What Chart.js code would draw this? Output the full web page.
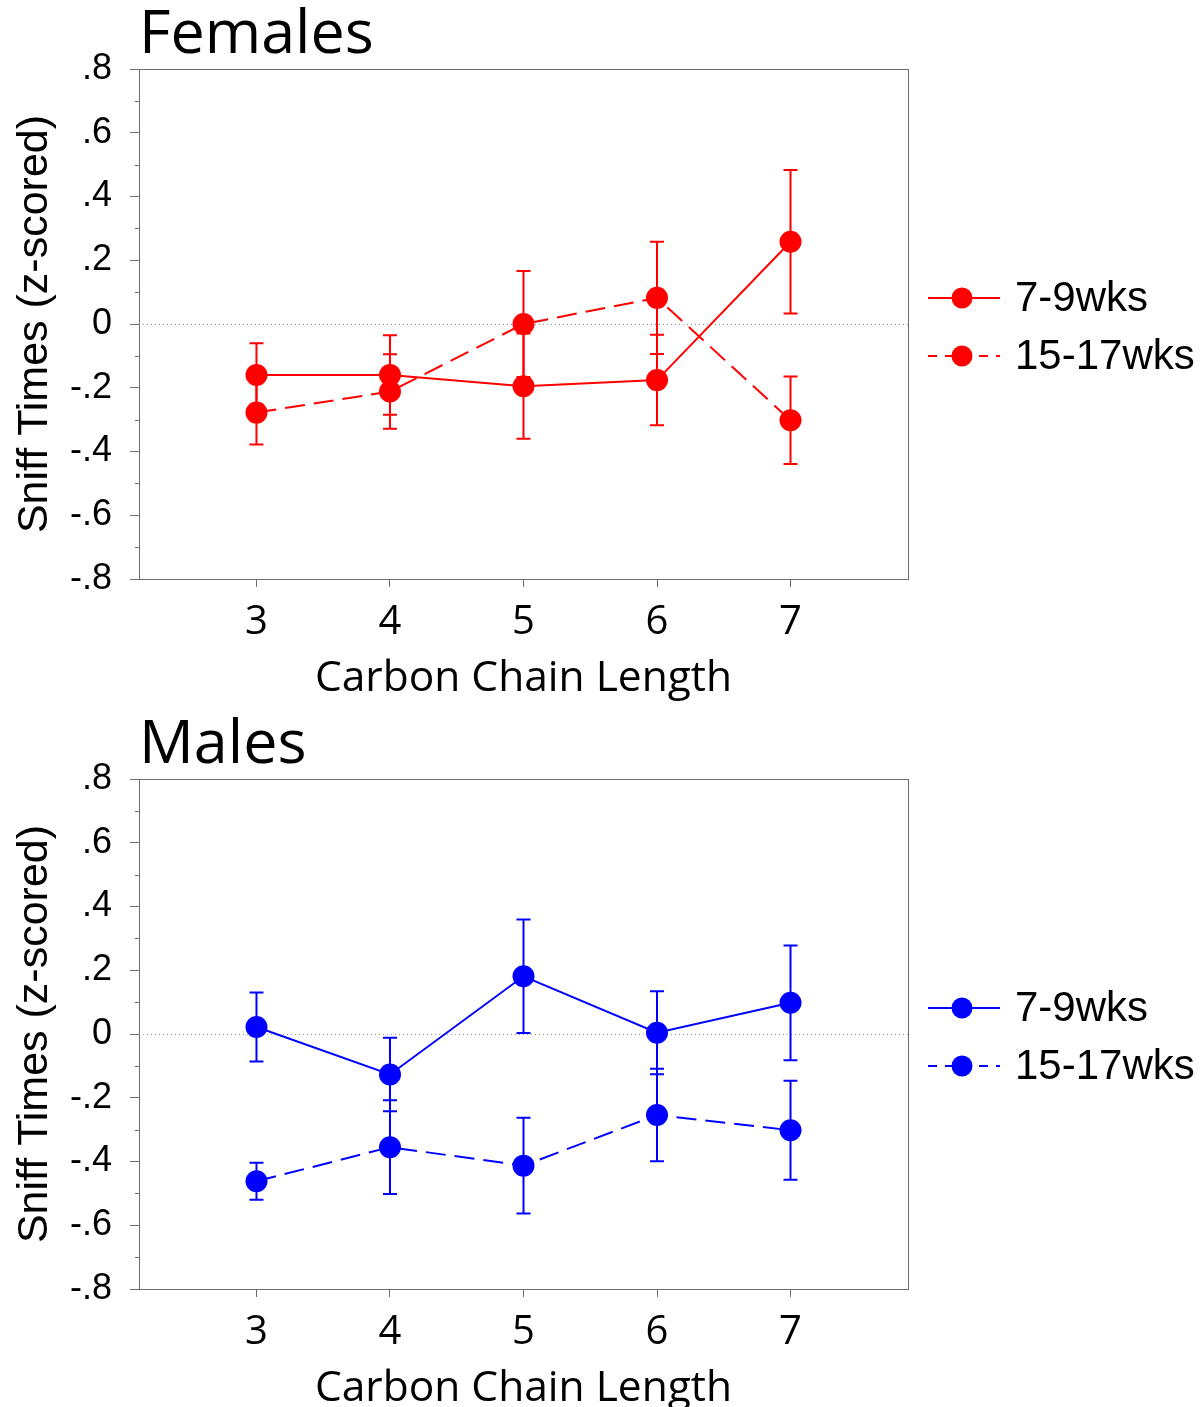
<!DOCTYPE html>
<html>
<head>
<meta charset="utf-8">
<title>Sniff times by carbon chain length</title>
<script src="https://cdn.jsdelivr.net/npm/chart.js@4.4.1/dist/chart.umd.min.js"></script>
<style>
  html, body { margin: 0; padding: 0; background: #fff; overflow: hidden; }
  #page { position: relative; width: 1203px; height: 1407px; overflow: hidden; }
  canvas { position: absolute; left: 0; }
  #femaleChart { top: 0; }
  #maleChart { top: 710px; }
</style>
</head>
<body>
<div id="page">
  <canvas id="femaleChart" width="1203" height="710"></canvas>
  <canvas id="maleChart" width="1203" height="710"></canvas>
</div>
<script>
// values (means and SEM)
const carbonLengths = [3, 4, 5, 6, 7];
const seriesLabels = ['7-9wks', '15-17wks'];

const femaleYoung = [-0.160, -0.160, -0.195, -0.176, 0.258];
const femaleYoungSem = [0.100, 0.125, 0.165, 0.142, 0.225];
const femaleOld = [-0.278, -0.212, 0.000, 0.082, -0.302];
const femaleOldSem = [0.100, 0.117, 0.166, 0.176, 0.137];

const maleYoung = [0.022, -0.127, 0.181, 0.004, 0.098];
const maleYoungSem = [0.108, 0.115, 0.178, 0.130, 0.180];
const maleOld = [-0.462, -0.355, -0.413, -0.254, -0.302];
const maleOldSem = [0.058, 0.147, 0.150, 0.145, 0.155];

const yTickValues = [-0.8, -0.6, -0.4, -0.2, 0, 0.2, 0.4, 0.6, 0.8];
const yTickLabels = ['-.8', '-.6', '-.4', '-.2', '0', '.2', '.4', '.6', '.8'];
const yMinorTicks = [-0.7, -0.5, -0.3, -0.1, 0.1, 0.3, 0.5, 0.7];
const xTickLabels = ['3', '4', '5', '6', '7'];

const AXIS_COLOR = '#6e6e6e';
const SANS = '"Liberation Sans", Arial, sans-serif';
const TITLE_FONT = '"Open Sans", "Noto Sans", sans-serif';

// box round the plot, dotted zero line, short minor ticks
const framePlugin = {
  id: 'frame',
  beforeDatasetsDraw(chart) {
    const { ctx, chartArea, scales } = chart;
    ctx.save();
    ctx.strokeStyle = AXIS_COLOR;
    ctx.lineWidth = 1;
    ctx.strokeRect(chartArea.left + 0.5, chartArea.top + 0.5,
      chartArea.right - chartArea.left, chartArea.bottom - chartArea.top);

    yMinorTicks.forEach(v => {
      const y = Math.round(scales.y.getPixelForValue(v)) + 0.5;
      ctx.beginPath();
      ctx.moveTo(chartArea.left - 4, y);
      ctx.lineTo(chartArea.left, y);
      ctx.stroke();
    });

    const y0 = Math.round(scales.y.getPixelForValue(0)) + 0.5;
    ctx.strokeStyle = '#9a9a9a';
    ctx.setLineDash([1, 3]);
    ctx.beginPath();
    ctx.moveTo(chartArea.left, y0);
    ctx.lineTo(chartArea.right, y0);
    ctx.stroke();
    ctx.restore();
  }
};

// error bars drawn under the markers
const errorBarPlugin = {
  id: 'errorBars',
  beforeDatasetsDraw(chart) {
    const { ctx, scales } = chart;
    chart.data.datasets.forEach(ds => {
      ctx.save();
      ctx.strokeStyle = ds.borderColor;
      ctx.lineWidth = 2;
      ds.data.forEach((pt, i) => {
        const x = scales.x.getPixelForValue(pt.x);
        const top = scales.y.getPixelForValue(pt.y + ds.sem[i]);
        const bot = scales.y.getPixelForValue(pt.y - ds.sem[i]);
        ctx.beginPath();
        ctx.moveTo(x, top);
        ctx.lineTo(x, bot);
        ctx.moveTo(x - 7, top);
        ctx.lineTo(x + 7, top);
        ctx.moveTo(x - 7, bot);
        ctx.lineTo(x + 7, bot);
        ctx.stroke();
      });
      ctx.restore();
    });
  }
};

// legend to the right: line + marker + label
const legendPlugin = {
  id: 'sideLegend',
  afterDraw(chart) {
    const { ctx, chartArea } = chart;
    const midY = (chartArea.top + chartArea.bottom) / 2;
    chart.data.datasets.forEach((ds, i) => {
      const y = midY - 26 + i * 58;
      const x0 = chartArea.right + 20;
      ctx.save();
      ctx.strokeStyle = ds.borderColor;
      ctx.lineWidth = 2;
      ctx.setLineDash(ds.borderDash.length ? [9, 8] : []);
      ctx.beginPath();
      ctx.moveTo(x0, y);
      ctx.lineTo(x0 + 72, y);
      ctx.stroke();
      ctx.setLineDash([]);
      ctx.fillStyle = ds.borderColor;
      ctx.beginPath();
      ctx.arc(x0 + 34, y, 10.5, 0, Math.PI * 2);
      ctx.fill();
      ctx.fillStyle = '#000';
      ctx.font = '42px ' + SANS;
      ctx.textBaseline = 'middle';
      ctx.fillText(ds.label, x0 + 87, y + 1);
      ctx.restore();
    });
  }
};

function toPoints(means) {
  return carbonLengths.map((c, i) => ({ x: c, y: means[i] }));
}

function buildChart(canvasId, title, color, young, youngSem, old, oldSem) {
  const ctx = document.getElementById(canvasId).getContext('2d');
  return new Chart(ctx, {
    type: 'line',
    data: {
      datasets: [{
        label: seriesLabels[0],
        data: toPoints(young),
        sem: youngSem,
        borderColor: color,
        backgroundColor: color,
        borderWidth: 2,
        borderDash: [],
        pointRadius: 11,
        pointHoverRadius: 11,
        pointBorderWidth: 0,
        pointBackgroundColor: color
      }, {
        label: seriesLabels[1],
        data: toPoints(old),
        sem: oldSem,
        borderColor: color,
        backgroundColor: color,
        borderWidth: 2,
        borderDash: [20, 9],
        pointRadius: 11,
        pointHoverRadius: 11,
        pointBorderWidth: 0,
        pointBackgroundColor: color
      }]
    },
    options: {
      responsive: false,
      animation: false,
      devicePixelRatio: 1,
      layout: { padding: { top: 0, right: 295, bottom: 0, left: 0 } },
      plugins: {
        legend: { display: false },
        tooltip: { enabled: false },
        title: {
          display: true,
          text: title,
          align: 'start',
          fullSize: false,
          color: '#000',
          font: { family: TITLE_FONT, size: 61, weight: 'normal', lineHeight: 1 },
          padding: { top: 5, bottom: 3 }
        }
      },
      scales: {
        x: {
          type: 'linear',
          min: 2.12,
          max: 7.88,
          afterBuildTicks: scale => {
            scale.ticks = carbonLengths.map(v => ({ value: v }));
          },
          afterFit: scale => { scale.height = 131; },
          ticks: {
            autoSkip: false,
            maxRotation: 0,
            padding: 12,
            color: '#000',
            font: { family: TITLE_FONT, size: 40 },
            callback: (v, i) => xTickLabels[i]
          },
          grid: { drawOnChartArea: false, drawTicks: true, tickLength: 8, tickColor: AXIS_COLOR },
          border: { color: AXIS_COLOR },
          title: {
            display: true,
            text: 'Carbon Chain Length',
            color: '#000',
            font: { family: TITLE_FONT, size: 42.5 },
            padding: { top: 0, bottom: 6 }
          }
        },
        y: {
          min: -0.8,
          max: 0.8,
          afterBuildTicks: scale => {
            scale.ticks = yTickValues.map(v => ({ value: v }));
          },
          afterFit: scale => { scale.width = 139; },
          ticks: {
            autoSkip: false,
            padding: 18,
            color: '#000',
            font: { family: SANS, size: 36 },
            callback: (v, i) => yTickLabels[i]
          },
          grid: { drawOnChartArea: false, drawTicks: true, tickLength: 9, tickColor: AXIS_COLOR },
          border: { color: AXIS_COLOR },
          title: {
            display: true,
            text: 'Sniff Times (z-scored)',
            color: '#000',
            font: { family: SANS, size: 43 },
            padding: { top: 9, bottom: 0 }
          }
        }
      }
    },
    plugins: [framePlugin, errorBarPlugin, legendPlugin]
  });
}

buildChart('femaleChart', 'Females', '#ff0000',
  femaleYoung, femaleYoungSem, femaleOld, femaleOldSem);
buildChart('maleChart', 'Males', '#0000ff',
  maleYoung, maleYoungSem, maleOld, maleOldSem);
</script>
</body>
</html>
